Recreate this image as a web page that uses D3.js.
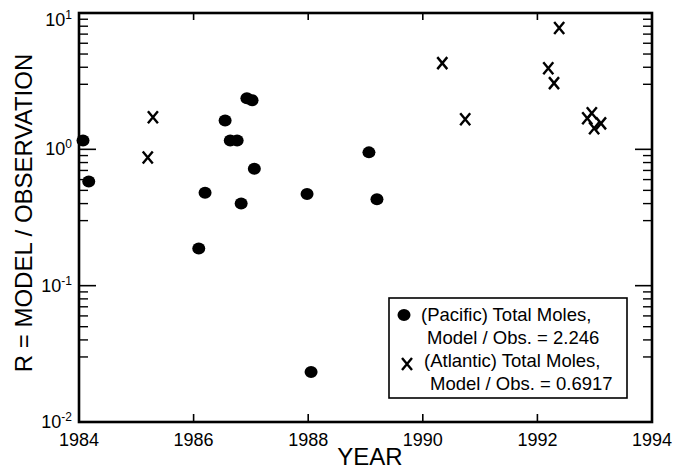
<!DOCTYPE html>
<html><head><meta charset="utf-8">
<script src="https://cdn.jsdelivr.net/npm/d3@7"></script>
<style>body{margin:0;background:#fff}svg{display:block;font-family:"Liberation Sans",Arial,sans-serif}</style>
</head><body><svg id="c" width="677" height="470"></svg>
<script>
const xTicks = [1984, 1986, 1988, 1990, 1992, 1994];
const yMajor = [0.01, 0.1, 1, 10];
const yExp = ["-2", "-1", "0", "1"];
const pacificYear = [1984.07,1984.17,1986.20,1986.09,1986.55,1986.64,1986.76,1986.83,1986.93,1987.02,1987.06,1987.98,1988.05,1989.06,1989.20];
const pacificR    = [1.16,0.58,0.48,0.187,1.63,1.16,1.16,0.40,2.37,2.29,0.72,0.47,0.0233,0.95,0.43];
const atlanticYear = [1985.29,1985.20,1990.34,1990.74,1992.19,1992.29,1992.38,1992.87,1992.95,1992.99,1993.11];
const atlanticR    = [1.72,0.87,4.29,1.66,3.94,3.06,7.76,1.69,1.84,1.43,1.55];
const legendLines = ["(Pacific) Total Moles,", "Model / Obs. = 2.246", "(Atlantic) Total Moles,", "Model / Obs. = 0.6917"];
const yTitle = "R = MODEL / OBSERVATION";
const xTitle = "YEAR";

const svg = d3.select("#c");
const x = d3.scaleLinear().domain([1984, 1994]).range([79, 652]);
const y = d3.scaleLog().domain([0.01, 10]).range([422, 13]);
const [x0, x1] = x.range(), [y0, y1] = y.range();

// minor ticks
const minor = [];
yMajor.slice(0, 3).forEach(d => { for (let k = 3; k <= 9; k++) minor.push(d * k); });

const g = svg.append("g").attr("stroke", "#000");
// frame
g.append("rect").attr("x", x0).attr("y", y1).attr("width", x1 - x0).attr("height", y0 - y1)
  .attr("fill", "none").attr("stroke-width", 2.6);
// x ticks
xTicks.slice(1, -1).forEach(t => {
  g.append("line").attr("x1", x(t)).attr("x2", x(t)).attr("y1", y0).attr("y2", y0 - 8).attr("stroke-width", 1.6);
  g.append("line").attr("x1", x(t)).attr("x2", x(t)).attr("y1", y1).attr("y2", y1 + 7).attr("stroke-width", 1.6);
});
// y ticks
yMajor.slice(1, -1).forEach(t => {
  g.append("line").attr("x1", x0).attr("x2", x0 + 17).attr("y1", y(t)).attr("y2", y(t)).attr("stroke-width", 1.6);
  g.append("line").attr("x1", x1).attr("x2", x1 - 17).attr("y1", y(t)).attr("y2", y(t)).attr("stroke-width", 1.6);
});
minor.forEach(t => {
  g.append("line").attr("x1", x0).attr("x2", x0 + 9).attr("y1", y(t)).attr("y2", y(t)).attr("stroke-width", 1.4);
  g.append("line").attr("x1", x1).attr("x2", x1 - 9).attr("y1", y(t)).attr("y2", y(t)).attr("stroke-width", 1.4);
});

// x tick labels
svg.append("g").selectAll("text").data(xTicks).join("text")
  .attr("x", d => x(d)).attr("y", 446).attr("text-anchor", "middle")
  .attr("font-size", 18).attr("fill", "#000").text(d => d);

// y tick labels
const yl = svg.append("g").selectAll("text").data(yMajor).join("text")
  .attr("x", 72).attr("y", d => Math.max(y(d) + 6, 26)).attr("text-anchor", "end")
  .attr("font-size", 18).attr("fill", "#000");
yl.append("tspan").text("10");
yl.append("tspan").attr("font-size", 12).attr("dy", -7).text((d, i) => yExp[i]);

// titles
svg.append("text").attr("transform", "translate(32,213) rotate(-90)").attr("text-anchor", "middle")
  .attr("font-size", 24).attr("fill", "#000").text(yTitle);
svg.append("text").attr("x", 370).attr("y", 465).attr("text-anchor", "middle")
  .attr("font-size", 24).attr("fill", "#000").text(xTitle);

// marks
const crossPath = (cx, cy) => `M${cx-5},${cy-6}L${cx+5},${cy+6}M${cx+5},${cy-6}L${cx-5},${cy+6}`;
svg.append("g").selectAll("ellipse").data(pacificYear).join("ellipse")
  .attr("cx", d => x(d)).attr("cy", (d, i) => y(pacificR[i])).attr("rx", 6.5).attr("ry", 6).attr("fill", "#000");
svg.append("g").selectAll("path").data(atlanticYear).join("path")
  .attr("d", (d, i) => crossPath(x(d), y(atlanticR[i])))
  .attr("stroke", "#000").attr("stroke-width", 2.4).attr("fill", "none");

// legend
const lg = svg.append("g");
lg.append("rect").attr("x", 389).attr("y", 298).attr("width", 238).attr("height", 100)
  .attr("fill", "#fff").attr("stroke", "#000").attr("stroke-width", 1.6);
lg.append("ellipse").attr("cx", 404).attr("cy", 315).attr("rx", 6.5).attr("ry", 6).attr("fill", "#000");
lg.append("path").attr("d", crossPath(407, 364)).attr("stroke", "#000").attr("stroke-width", 2.4);
const lx = [421, 427, 424, 430], ly = [321, 344, 367, 390];
lg.selectAll("text").data(legendLines).join("text")
  .attr("x", (d, i) => lx[i]).attr("y", (d, i) => ly[i]).attr("font-size", 18.5).attr("fill", "#000").text(d => d);
</script></body></html>
